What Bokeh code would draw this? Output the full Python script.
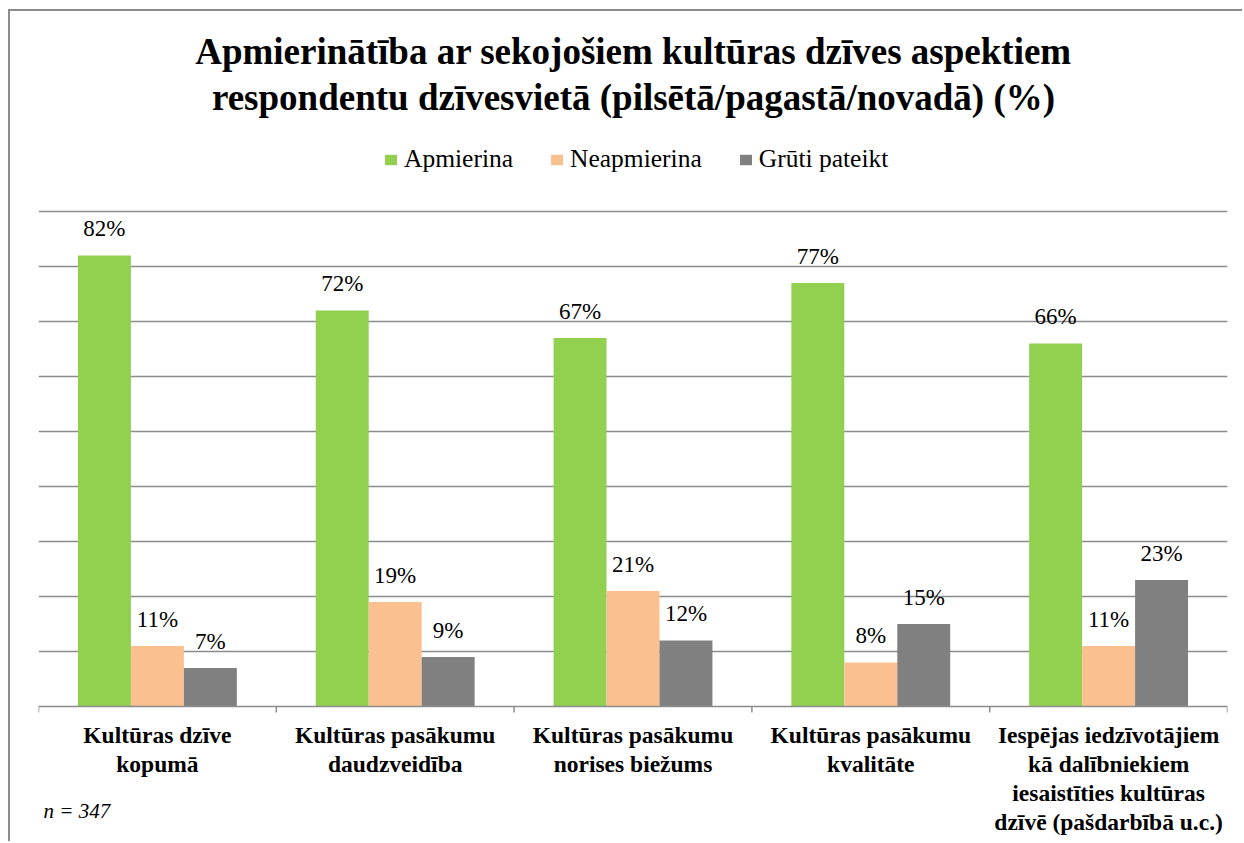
from bokeh.plotting import figure
from bokeh.models import (ColumnDataSource, FixedTicker, Legend, LegendItem, Label, Span)
from bokeh.transform import dodge
from bokeh.core.properties import value
from bokeh.embed import file_html
from bokeh.resources import INLINE

# ---------------- data ----------------
categories = [
    "Kultūras dzīve kopumā",
    "Kultūras pasākumu daudzveidība",
    "Kultūras pasākumu norises biežums",
    "Kultūras pasākumu kvalitāte",
    "Iespējas iedzīvotājiem kā dalībniekiem iesaistīties kultūras dzīvē (pašdarbībā u.c.)",
]
tick_labels = [
    "Kultūras dzīve\nkopumā",
    "Kultūras pasākumu\ndaudzveidība",
    "Kultūras pasākumu\nnorises biežums",
    "Kultūras pasākumu\nkvalitāte",
    "Iespējas iedzīvotājiem\nkā dalībniekiem\niesaistīties kultūras\ndzīvē (pašdarbībā u.c.)",
]
series_names = ["Apmierina", "Neapmierina", "Grūti pateikt"]
apmierina = [82, 72, 67, 77, 66]
neapmierina = [11, 19, 21, 8, 11]
gruti = [7, 9, 12, 15, 23]
grid_ticks = [10, 20, 30, 40, 50, 60, 70, 80, 90]
title_lines = [
    "Apmierinātība ar sekojošiem kultūras dzīves aspektiem",
    "respondentu dzīvesvietā (pilsētā/pagastā/novadā) (%)",
]
note = "n = 347"

# ---------------- style / layout ----------------
colors = ["#92D050", "#FAC090", "#808080"]
SERIF = "Liberation Serif"
GRID = "#8c8c8c"

W, H = 1234, 832          # canvas size
FRAME_H = H               # frame spans the whole canvas height
ZERO_FROM_BOTTOM = 137    # px from canvas bottom to the value axis zero
TOP_FROM_BOTTOM = 632     # px from canvas bottom to the 90 gridline
PX = (TOP_FROM_BOTTOM - ZERO_FROM_BOTTOM) / 90.0
y_start = -ZERO_FROM_BOTTOM / PX
y_end = (FRAME_H - ZERO_FROM_BOTTOM) / PX

n = len(categories)
centers = [i + 0.5 for i in range(n)]
bounds = list(range(n + 1))
bar_w = 0.2227

src = ColumnDataSource(dict(
    x=centers,
    a=apmierina, b=neapmierina, c=gruti,
    at=[f"{v}%" for v in apmierina],
    bt=[f"{v}%" for v in neapmierina],
    ct=[f"{v}%" for v in gruti],
    lab=tick_labels,
))

p = figure(width=W, height=H, x_range=(0, n), y_range=(y_start, y_end),
           output_backend="svg", toolbar_location=None,
           x_axis_location=None, y_axis_location=None,
           min_border_left=28, min_border_right=17,
           min_border_top=0, min_border_bottom=0)
p.styles = {"margin-left": "8px", "margin-top": "9px",
            "border-top": "2px solid #8c8c8c", "border-left": "2px solid #8c8c8c"}
p.outline_line_color = None
p.background_fill_color = "white"
p.border_fill_color = "white"

p.xgrid.visible = False
p.ygrid.ticker = FixedTicker(ticks=grid_ticks)
p.ygrid.grid_line_color = GRID
p.ygrid.grid_line_width = 1.5

# category axis (baseline, boundary ticks, labels)
p.add_layout(Span(location=0, dimension="width", line_color=GRID, line_width=1.5))
p.segment(x0=bounds, y0=[0] * len(bounds), x1=bounds, y1=[-6 / PX] * len(bounds),
          line_color=GRID, line_width=1.5)
p.text(x="x", y=0, text="lab", source=src, y_offset=15,
       text_align="center", text_baseline="top",
       text_font=value(SERIF), text_font_style="bold", text_font_size="23.5px",
       text_line_height=1.12, text_color="black")

offsets = [-bar_w, 0.0, bar_w]
fields = ["a", "b", "c"]
tfields = ["at", "bt", "ct"]
renderers = []
for off, f, tf, col in zip(offsets, fields, tfields, colors):
    r = p.vbar(x=dodge("x", off, range=p.x_range), top=f, width=bar_w,
               bottom=0, source=src, fill_color=col, line_color=None)
    renderers.append(r)
    p.text(x=dodge("x", off, range=p.x_range), y=f, text=tf, source=src,
           text_align="center", text_baseline="alphabetic", y_offset=-27,
           text_font=value(SERIF), text_font_size="23px", text_color="black")

legend = Legend(items=[LegendItem(label=nm, renderers=[r]) for nm, r in zip(series_names, renderers)],
                orientation="horizontal", location=(345, 669),
                glyph_width=15, glyph_height=13, label_standoff=6, spacing=36,
                padding=0, margin=0, border_line_color=None, background_fill_alpha=0,
                label_text_font=SERIF, label_text_font_size="25.5px", label_text_color="black")
p.add_layout(legend, "center")

# title lines
for txt, yy in zip(title_lines, [792, 746]):
    p.add_layout(Label(x=595, y=yy, x_units="screen", y_units="screen", text=txt,
                       text_align="center", text_baseline="alphabetic",
                       text_font=SERIF, text_font_style="bold", text_font_size="37px",
                       text_color="black"))

p.add_layout(Label(x=5, y=33, x_units="screen", y_units="screen", text=note,
                   text_align="left", text_baseline="alphabetic",
                   text_font=SERIF, text_font_style="italic", text_font_size="21px",
                   text_color="black"))

open("out.html", "w").write(file_html(p, INLINE))
